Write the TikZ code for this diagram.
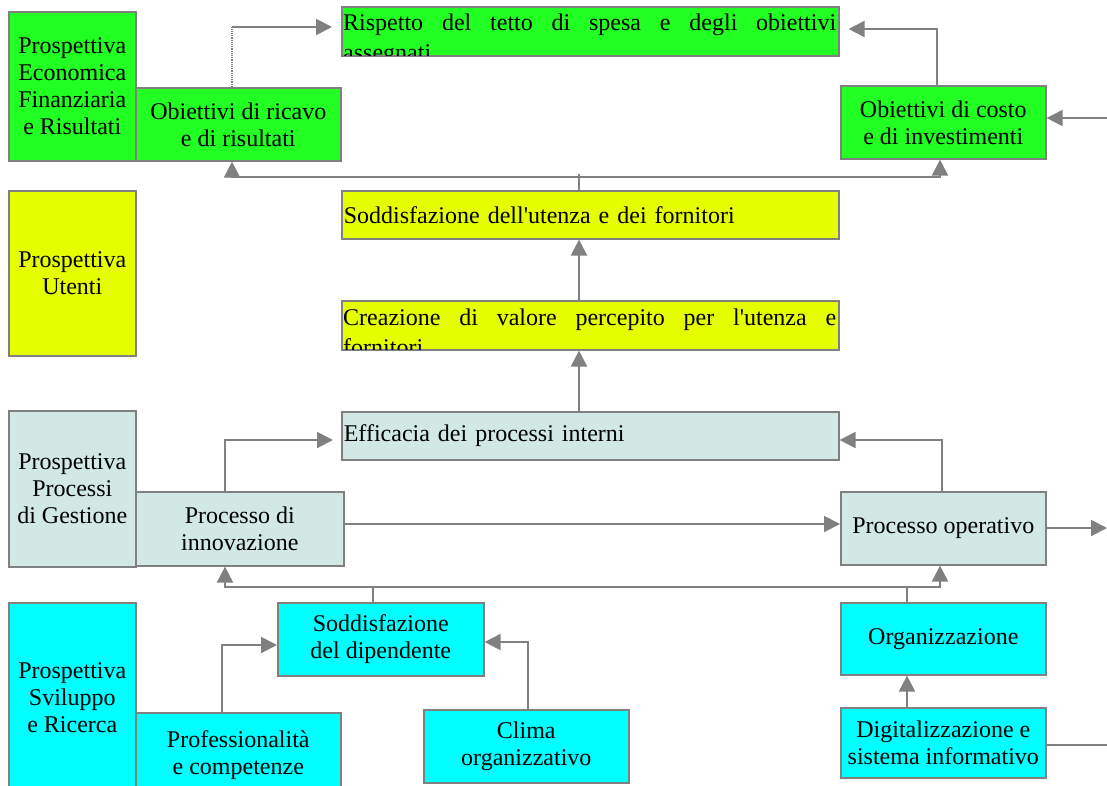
\documentclass[tikz,border=0pt]{standalone}
\usepackage{fontspec}
\setmainfont{Liberation Serif}[Ligatures=TeXOff]
\usetikzlibrary{arrows.meta,calc}
\definecolor{gline}{HTML}{808080}
\definecolor{cgreen}{HTML}{22FF22}
\definecolor{cyellow}{HTML}{E6FF00}
\definecolor{cteal}{HTML}{D1E8E5}
\definecolor{ccyan}{HTML}{00FFFF}
\begin{document}
\begin{tikzpicture}[x=1pt,y=-1pt,
  box/.style={draw=gline, line width=1.6pt, anchor=north west, inner sep=0pt, align=center,
    font=\fontsize{24}{27}\selectfont},
  wbox/.style={box, minimum width=497pt, text width=493pt, inner xsep=2pt, align=left},
  wtext/.style={anchor=north west, inner xsep=2pt, inner ysep=0pt, text width=493pt, align=justify,
    font=\fontsize{24}{30}\selectfont},
  conn/.style={draw=gline, line width=2pt},
  dotline/.style={draw=gline, line width=1.2pt, densely dotted},
  arr/.style={conn, -{Triangle[length=16pt,width=16pt]}},
]
\useasboundingbox (0,0) rectangle (1107,785);

% ---------- row 1 : green ----------
\node[box, fill=cgreen, minimum width=127pt, minimum height=149pt] (pEco) at (8,11)
  {Prospettiva\\Economica\\Finanziaria\\e Risultati};
\node[box, fill=cgreen, minimum width=205pt, minimum height=73pt] (ricavo) at (135,87)
  {Obiettivi di ricavo\\e di risultati};
\node[box, fill=cgreen, minimum width=497pt, minimum height=49pt] (rispetto) at (341,6) {};
\begin{scope}
  \clip ($(rispetto.north west)+(1,1)$) rectangle ($(rispetto.south east)+(-1,-1)$);
  \node[wtext] (rispettoT) at ($(rispetto.north west)+(0,8)$)
    {\hyphenpenalty=10000 \tolerance=10000 Rispetto del tetto di spesa e degli obiettivi\linebreak assegnati};
\end{scope}
\node[box, fill=cgreen, minimum width=205pt, minimum height=73pt] (costo) at (840,85)
  {Obiettivi di costo\\e di investimenti};

% ---------- row 2 : yellow ----------
\node[box, fill=cyellow, minimum width=127pt, minimum height=165pt] (pUt) at (8,190)
  {Prospettiva\\Utenti};
\node[wbox, fill=cyellow, minimum height=48pt] (soddUt) at (341,190)
  {Soddisfazione dell'utenza e dei fornitori};
\node[box, fill=cyellow, minimum width=497pt, minimum height=49pt] (creaz) at (341,300) {};
\begin{scope}
  \clip ($(creaz.north west)+(1,1)$) rectangle ($(creaz.south east)+(-1,-1)$);
  \node[wtext] (creazT) at ($(creaz.north west)+(0,9)$)
    {\hyphenpenalty=10000 \tolerance=10000 Creazione di valore percepito per l'utenza e\linebreak fornitori};
\end{scope}

% ---------- row 3 : teal ----------
\node[box, fill=cteal, minimum width=127pt, minimum height=156pt] (pProc) at (8,410)
  {Prospettiva\\Processi\\di Gestione};
\node[wbox, fill=cteal, minimum height=48pt] (effic) at (341,411)
  {Efficacia dei processi interni};
\node[box, fill=cteal, minimum width=208pt, minimum height=74pt] (innov) at (135,491)
  {Processo di\\innovazione};
\node[box, fill=cteal, minimum width=205pt, minimum height=73pt] (operat) at (840,491)
  {Processo operativo};

% ---------- row 4 : cyan ----------
\node[box, fill=ccyan, minimum width=127pt, minimum height=190pt] (pSvil) at (8,602)
  {Prospettiva\\Sviluppo\\e Ricerca};
\node[box, fill=ccyan, minimum width=206pt, minimum height=73pt] (soddDip) at (277,602)
  {Soddisfazione\\del dipendente};
\node[box, fill=ccyan, minimum width=205pt, minimum height=84pt] (prof) at (135,712)
  {Professionalità\\e competenze};
\node[box, fill=ccyan, minimum width=205pt, minimum height=73pt] (clima) at (423,709)
  {Clima\\organizzativo};
\node[box, fill=ccyan, minimum width=205pt, minimum height=72pt] (organ) at (840,602)
  {Organizzazione};
\node[box, fill=ccyan, minimum width=205pt, minimum height=70pt] (digit) at (840,707)
  {Digitalizzazione e\\sistema informativo};

% ---------- connectors ----------
\coordinate (k1) at (232,27);
\draw[dotline] (ricavo.north -| k1) -- (k1);
\draw[arr, shorten >=9pt] (k1) -- (k1 -| rispetto.west);

\coordinate (k2) at (937,29);
\draw[arr, shorten >=9pt] (costo.north -| k2) -- (k2) -- (k2 -| rispetto.east);

\coordinate (eR1) at (1107,118);
\draw[arr] (eR1) -- (eR1 -| costo.east);

\coordinate (b1) at (579,177);
\coordinate (b1t) at (579,174);
\coordinate (b1L) at (232,177);
\coordinate (b1R) at (940,177);
\draw[conn] (soddUt.north -| b1) -- (b1t);
\draw[arr] (b1R) -- (b1L) -- (ricavo.south -| b1L);
\draw[arr] (b1L) -- (b1R) -- (costo.south -| b1R);

\coordinate (cx) at (579,0);
\draw[arr] (creaz.north -| cx) -- (soddUt.south -| cx);
\draw[arr] (effic.north -| cx) -- (creaz.south -| cx);

\coordinate (k7) at (225,440);
\draw[arr, shorten >=8pt] (innov.north -| k7) -- (k7) -- (k7 -| effic.west);
\coordinate (k8) at (942,440);
\draw[arr] (operat.north -| k8) -- (k8) -- (k8 -| effic.east);

\coordinate (k9) at (0,524);
\draw[arr] (innov.east |- k9) -- (operat.west |- k9);
\coordinate (eR2) at (1107,528);
\draw[arr] (operat.east |- eR2) -- (eR2);

\coordinate (b2L) at (225,587);
\coordinate (b2R) at (940,587);
\coordinate (sd) at (373,587);
\coordinate (og) at (907,587);
\draw[arr] (b2R) -- (b2L) -- (innov.south -| b2L);
\draw[arr] (b2L) -- (b2R) -- (operat.south -| b2R);
\draw[conn] (soddDip.north -| sd) -- (sd);
\draw[conn] (organ.north -| og) -- (og);

\coordinate (k12) at (222,645);
\draw[arr] (prof.north -| k12) -- (k12) -- (k12 -| soddDip.west);
\coordinate (k13) at (528,642);
\draw[arr] (clima.north -| k13) -- (k13) -- (k13 -| soddDip.east);

\draw[arr] (digit.north -| og) -- (organ.south -| og);
\coordinate (eR3) at (1107,745);
\draw[conn] (digit.east |- eR3) -- (eR3);
\end{tikzpicture}
\end{document}
